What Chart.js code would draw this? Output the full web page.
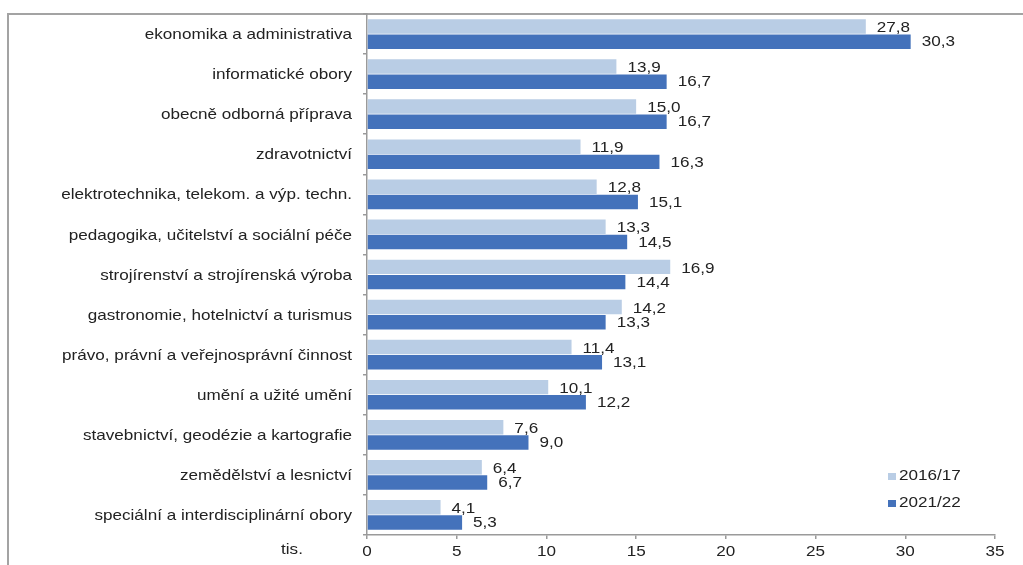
<!DOCTYPE html>
<html>
<head>
<meta charset="utf-8">
<script src="https://cdn.jsdelivr.net/npm/chart.js@4/dist/chart.umd.min.js"></script>
<style>
html,body{margin:0;padding:0;background:#fff;}
#wrap{position:relative;width:1023px;height:565px;overflow:hidden;}
#frame{position:absolute;left:7px;top:13px;right:-5px;bottom:-5px;border-left:2px solid #a3a3a3;border-top:2px solid #a3a3a3;}
canvas{position:absolute;left:0;top:0;}
</style>
</head>
<body>
<div id="wrap"><div id="frame"></div><canvas id="c" width="1023" height="565"></canvas></div>
<script>
const categories = [
  "ekonomika a administrativa",
  "informatické obory",
  "obecně odborná příprava",
  "zdravotnictví",
  "elektrotechnika, telekom. a výp. techn.",
  "pedagogika, učitelství a sociální péče",
  "strojírenství a strojírenská výroba",
  "gastronomie, hotelnictví a turismus",
  "právo, právní a veřejnosprávní činnost",
  "umění a užité umění",
  "stavebnictví, geodézie a kartografie",
  "zemědělství a lesnictví",
  "speciální a interdisciplinární obory"
];
const series2016 = [27.8, 13.9, 15.0, 11.9, 12.8, 13.3, 16.9, 14.2, 11.4, 10.1, 7.6, 6.4, 4.1];
const series2021 = [30.3, 16.7, 16.7, 16.3, 15.1, 14.5, 14.4, 13.3, 13.1, 12.2, 9.0, 6.7, 5.3];
const seriesNames = ["2016/17", "2021/22"];
const unitLabel = "tis.";
const xMin = 0, xMax = 35, xStep = 5;

const FONT = "'Liberation Sans', Arial, sans-serif";
const FSIZE = 15;
const SX = 1.14;
const TXT = "#222222";
const AXIS = "#9a9a9a";
const colors = ["#b9cde5", "#4472bb"];

function stxt(ctx, text, x, y, align) {
  ctx.save();
  ctx.translate(x, y);
  ctx.scale(SX, 1);
  ctx.textAlign = align;
  ctx.fillText(text, 0, 0);
  ctx.restore();
}

const textPlugin = {
  id: 'textPlugin',
  afterDraw(chart) {
    const ctx = chart.ctx;
    ctx.save();
    ctx.font = FSIZE + "px " + FONT;
    ctx.fillStyle = TXT;
    ctx.textBaseline = "middle";
    chart.data.datasets.forEach((ds, di) => {
      const meta = chart.getDatasetMeta(di);
      meta.data.forEach((bar, i) => {
        const txt = ds.data[i].toFixed(1).replace('.', ',');
        const dy = di === 0 ? 1.5 : 0.5;
        stxt(ctx, txt, bar.x + 11, bar.y + dy, "left");
      });
    });
    const ys = chart.scales.y;
    categories.forEach((c, i) => {
      stxt(ctx, c, 352, ys.getPixelForValue(i) + 1, "right");
    });
    const xs = chart.scales.x;
    for (let v = xMin; v <= xMax; v += xStep) {
      stxt(ctx, String(v), xs.getPixelForValue(v), 551.5, "center");
    }
    stxt(ctx, unitLabel, 292, 549.5, "center");
    const lx = 888, ly = [476.5, 503.5];
    seriesNames.forEach((n, k) => {
      ctx.fillStyle = colors[k];
      ctx.fillRect(lx, ly[k] - 3.5, 8, 7);
      ctx.fillStyle = TXT;
      stxt(ctx, n, lx + 11, ly[k] - 0.5, "left");
    });
    ctx.restore();
  }
};

new Chart(document.getElementById('c'), {
  type: 'bar',
  data: {
    labels: categories,
    datasets: [
      { label: seriesNames[0], data: series2016, backgroundColor: colors[0], categoryPercentage: 0.76, barPercentage: 0.95 },
      { label: seriesNames[1], data: series2021, backgroundColor: colors[1], categoryPercentage: 0.76, barPercentage: 0.95 }
    ]
  },
  options: {
    indexAxis: 'y',
    responsive: false,
    animation: false,
    devicePixelRatio: 1,
    layout: { padding: { top: 14, right: 28, left: 0, bottom: 0 } },
    plugins: { legend: { display: false }, tooltip: { enabled: false } },
    scales: {
      x: {
        min: xMin, max: xMax,
        ticks: { stepSize: xStep, display: false },
        grid: { drawOnChartArea: false, color: AXIS, tickLength: 4, lineWidth: 1.5 },
        border: { color: AXIS, width: 1.5 },
        afterFit(s) { s.height = 30; }
      },
      y: {
        ticks: { display: false },
        grid: { drawOnChartArea: false, color: AXIS, tickLength: 4, offset: true, lineWidth: 1.5 },
        border: { color: AXIS, width: 1.5 },
        afterFit(s) { s.width = 367; }
      }
    }
  },
  plugins: [textPlugin]
});
</script>
</body>
</html>
